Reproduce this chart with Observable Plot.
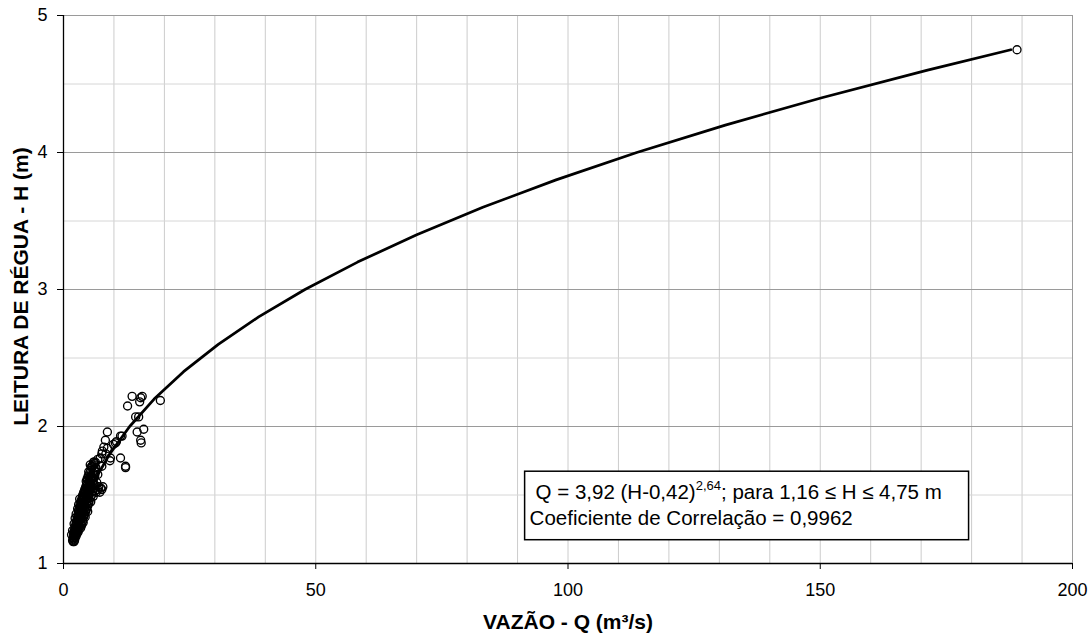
<!DOCTYPE html>
<html>
<head>
<meta charset="utf-8">
<script src="https://cdn.jsdelivr.net/npm/d3@7"></script>
<script src="https://cdn.jsdelivr.net/npm/@observablehq/plot@0.6"></script>
<style>
  body { margin: 0; background: #fff; }
  #chart { width: 1091px; height: 637px; }
</style>
</head>
<body>
<div id="chart"></div>
<script>
// Observed gaugings: discharge Q (m³/s) and stage H (m)
const obsH = [
  1.16, 1.16, 1.17, 1.17, 1.18, 1.19, 1.19, 1.20, 1.20, 1.21, 1.21, 1.22, 1.22,
  1.23, 1.23, 1.23, 1.24, 1.24, 1.25, 1.25, 1.25, 1.26, 1.26, 1.26,
  1.27, 1.27, 1.27, 1.28, 1.28, 1.28, 1.29, 1.29, 1.30, 1.30, 1.30,
  1.31, 1.31, 1.31, 1.32, 1.32, 1.33, 1.33, 1.33, 1.34, 1.34, 1.34,
  1.35, 1.35, 1.35, 1.36, 1.36, 1.36, 1.37, 1.37, 1.37, 1.38, 1.38, 1.38,
  1.39, 1.39, 1.39, 1.40, 1.40, 1.40, 1.41, 1.41, 1.41, 1.42, 1.42, 1.42,
  1.43, 1.43, 1.44, 1.44, 1.44, 1.44, 1.45, 1.45, 1.45, 1.46, 1.46, 1.46,
  1.47, 1.47, 1.48, 1.48, 1.48, 1.48, 1.49, 1.49, 1.50, 1.50, 1.50, 1.50,
  1.51, 1.51, 1.52, 1.52, 1.52, 1.52, 1.52, 1.53, 1.53, 1.53,
  1.54, 1.54, 1.54, 1.54, 1.54, 1.55, 1.55, 1.55, 1.55,
  1.56, 1.56, 1.56, 1.56, 1.56, 1.57, 1.57, 1.57, 1.58, 1.58, 1.58,
  1.60, 1.60, 1.60, 1.61, 1.61, 1.62, 1.62, 1.62, 1.63, 1.63,
  1.64, 1.64, 1.64, 1.66, 1.66, 1.67, 1.67, 1.68, 1.68, 1.70, 1.70,
  1.71, 1.71, 1.72, 1.72, 1.73, 1.74,
  1.21, 1.24, 1.29, 1.33, 1.36, 1.40, 1.43, 1.47, 1.30, 1.34, 1.38, 1.45, 1.49, 1.53, 1.59, 1.65,
  2.22, 2.15, 2.21, 2.22, 2.18, 2.19, 2.07, 2.07, 1.96, 1.98, 1.90, 1.88,
  1.96, 1.90, 1.89, 1.93, 1.93, 1.87, 1.88, 1.82, 1.84, 1.77, 1.77, 1.77,
  1.71, 1.70, 1.75, 1.74, 1.71, 1.74, 1.80, 1.85, 1.80, 1.76
];
const obsQ = [
  1.9, 2.1, 1.8, 2.2, 2.0, 1.9, 2.3, 2.1, 2.5, 2.0, 2.4, 2.2, 2.7,
  2.1, 2.5, 2.9, 2.3, 2.8, 2.2, 2.6, 3.1, 2.4, 2.9, 3.4,
  2.3, 2.7, 3.2, 2.5, 3.0, 3.6, 2.6, 3.3, 2.5, 2.9, 3.5,
  2.7, 3.2, 3.8, 2.8, 3.4, 2.7, 3.1, 3.7, 2.9, 3.5, 4.0,
  3.0, 3.3, 3.9, 2.9, 3.6, 4.2, 3.1, 3.4, 4.0, 3.2, 3.8, 4.4,
  3.0, 3.5, 4.1, 3.3, 3.9, 4.6, 3.2, 3.7, 4.3, 3.4, 4.0, 4.8,
  3.5, 4.2, 3.3, 3.8, 4.5, 5.0, 3.6, 4.1, 4.7, 3.5, 4.3, 5.1,
  3.8, 4.6, 3.7, 4.2, 4.9, 5.3, 3.9, 4.5, 3.8, 4.4, 5.0, 5.6,
  4.1, 4.8, 4.0, 4.6, 5.3, 6.5, 7.2, 4.3, 5.0, 5.8,
  4.2, 4.8, 5.5, 6.8, 7.6, 4.5, 5.2, 6.1, 7.4,
  4.4, 5.0, 5.7, 7.0, 7.8, 4.7, 5.4, 6.3, 4.6, 5.2, 6.0,
  4.5, 5.1, 5.8, 4.8, 5.5, 4.7, 5.3, 6.0, 5.0, 5.7,
  4.9, 5.5, 6.2, 5.2, 5.9, 5.0, 6.3, 5.4, 6.1, 5.6, 6.4,
  5.6, 7.6, 5.3, 6.0, 6.2, 6.0,
  1.6, 1.8, 2.1, 2.3, 2.5, 2.8, 3.0, 3.2, 3.9, 4.3, 4.8, 5.4, 5.9, 6.3, 6.6, 6.8,
  13.6, 12.7, 15.3, 15.6, 15.1, 19.2, 14.3, 14.9, 14.6, 15.9, 15.3, 15.4,
  8.7, 8.3, 10.5, 11.3, 11.6, 9.9, 10.3, 7.7, 8.7, 7.3, 9.3, 11.3,
  12.3, 12.3, 9.2, 6.0, 5.6, 6.3, 7.6, 8.0, 8.4, 6.8
];
// Extreme point of the rating
const topQ = [189];
const topH = [4.75];

// Fitted rating curve
const curveH = [1.16, 1.2, 1.4, 1.6, 1.8, 2.0, 2.2, 2.4, 2.6, 2.8, 3.0, 3.2, 3.4, 3.6, 3.8, 4.0, 4.2, 4.4, 4.6, 4.75];
const curveQ = [1.77, 2.03, 3.72, 6.07, 9.17, 13.11, 17.96, 23.80, 30.68, 38.68, 47.86, 58.29, 70.02, 83.12, 97.64, 113.63, 131.18, 150.31, 171.08, 187.77];

const xTicks = [0, 50, 100, 150, 200];
const yTicks = [1, 2, 3, 4, 5];
const xGridVals = [10, 20, 30, 40, 50, 60, 70, 80, 90, 100, 110, 120, 130, 140, 150, 160, 170, 180, 190];
const yMinorGrid = [1.5, 2.5, 3.5, 4.5];
const yMajorGrid = [2, 3, 4];

const xLabel = "VAZÃO - Q (m³/s)";
const yLabel = "LEITURA DE RÉGUA - H (m)";
const noteLine1a = "Q = 3,92 (H-0,42)";
const noteSup = "2,64";
const noteLine1b = "; para 1,16 ≤ H ≤ 4,75 m";
const noteLine2 = "Coeficiente de Correlação = 0,9962";

const FONT = "'Liberation Sans', Arial, Helvetica, sans-serif";

const obs = obsQ.map((q, i) => ({Q: q, H: obsH[i]}));
const curve = curveQ.map((q, i) => ({Q: q, H: curveH[i]}));
const top1 = topQ.map((q, i) => ({Q: q, H: topH[i]}));

function noteMark(index, scales) {
  const x0 = scales.x(91.5), x1 = scales.x(179.5);
  const y0 = scales.y(1.67), y1 = scales.y(1.17);
  const g = d3.create("svg:g")
    .attr("font-family", FONT).attr("fill", "black").attr("text-anchor", "start");
  g.append("rect")
    .attr("x", x0).attr("y", y0)
    .attr("width", x1 - x0).attr("height", y1 - y0)
    .attr("fill", "white").attr("stroke", "black").attr("stroke-width", 1.5);
  const t1 = g.append("text").attr("x", x0 + 11).attr("y", y0 + 28).attr("font-size", 20.5);
  t1.append("tspan").text(noteLine1a);
  t1.append("tspan").attr("font-size", 13).attr("dy", -9).text(noteSup);
  t1.append("tspan").attr("dy", 9).text(noteLine1b);
  g.append("text").attr("x", x0 + 5).attr("y", y0 + 53.5).attr("font-size", 20.5).text(noteLine2);
  return g.node();
}

const chart = Plot.plot({
  width: 1091,
  height: 637,
  marginLeft: 63,
  marginRight: 19,
  marginTop: 15,
  marginBottom: 74,
  style: {fontFamily: FONT, fontSize: "18px", background: "white", color: "black"},
  x: {domain: [0, 200], ticks: xTicks},
  y: {domain: [1, 5], ticks: yTicks},
  marks: [
    Plot.gridX(xGridVals, {stroke: "#cccccc", strokeOpacity: 1}),
    Plot.gridY(yMinorGrid, {stroke: "#d6d6d6", strokeOpacity: 1}),
    Plot.gridY(yMajorGrid, {stroke: "#9a9a9a", strokeOpacity: 1}),
    Plot.frame({stroke: "#9a9a9a"}),
    Plot.ruleX([0], {stroke: "black", strokeWidth: 1.3}),
    Plot.ruleY([1], {stroke: "black", strokeWidth: 1.3}),
    Plot.axisX(xTicks, {tickSize: 6, tickPadding: 14, label: null, fontSize: 18, tickFormat: d => String(d)}),
    Plot.axisY(yTicks, {tickSize: 6, tickPadding: 10, label: null, fontSize: 18, tickFormat: d => String(d)}),
    noteMark,
    Plot.dot(obs, {x: "Q", y: "H", r: 4, stroke: "black", strokeWidth: 1.35, fill: "none"}),
    Plot.line(curve, {x: "Q", y: "H", stroke: "black", strokeWidth: 2.75, curve: "linear"}),
    Plot.dot(top1, {x: "Q", y: "H", r: 4, stroke: "black", strokeWidth: 1.3, fill: "white"}),
    Plot.text([xLabel], {frameAnchor: "bottom", textAnchor: "middle", lineAnchor: "middle", dy: 59, fontWeight: "bold", fontSize: 21}),
    Plot.text([yLabel], {frameAnchor: "left", textAnchor: "middle", lineAnchor: "middle", rotate: -90, dx: -42, dy: -3, fontWeight: "bold", fontSize: 21})
  ]
});

document.getElementById("chart").appendChild(chart);
</script>
</body>
</html>
